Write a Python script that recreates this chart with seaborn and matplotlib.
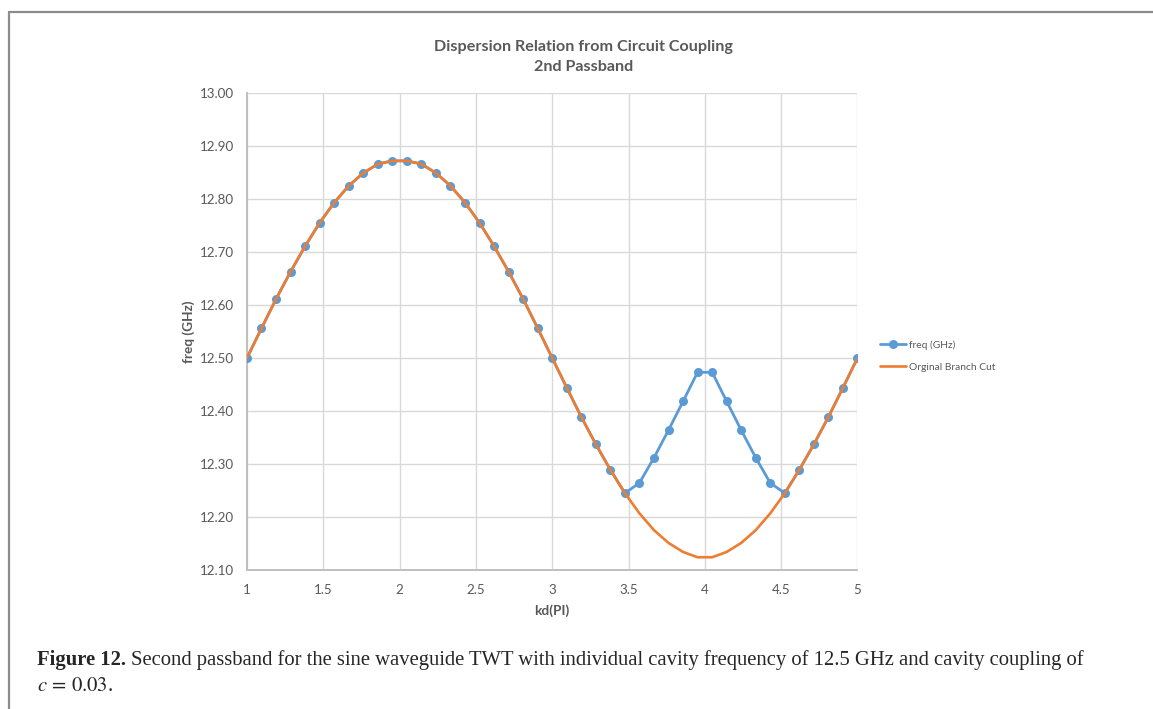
import numpy as np
import pandas as pd
import matplotlib
matplotlib.use("Agg")
import matplotlib.pyplot as plt
from matplotlib.lines import Line2D
import seaborn as sns

# ---- data ----
kd = [1.000, 1.095, 1.190, 1.286, 1.381, 1.476, 1.571, 1.667, 1.762, 1.857,
      1.952, 2.048, 2.143, 2.238, 2.333, 2.429, 2.524, 2.619, 2.714, 2.810,
      2.905, 3.000, 3.095, 3.190, 3.286, 3.381, 3.476, 3.571, 3.667, 3.762,
      3.857, 3.952, 4.048, 4.143, 4.238, 4.333, 4.429, 4.524, 4.619, 4.714,
      4.810, 4.905, 5.000]

freq_ghz = [12.500, 12.556, 12.611, 12.663, 12.711, 12.755, 12.793, 12.825, 12.849, 12.866,
            12.872, 12.872, 12.866, 12.849, 12.825, 12.793, 12.755, 12.711, 12.663, 12.611,
            12.556, 12.500, 12.444, 12.389, 12.337, 12.289, 12.245, 12.264, 12.312, 12.364,
            12.418, 12.473, 12.473, 12.418, 12.364, 12.312, 12.264, 12.245, 12.289, 12.337,
            12.389, 12.444, 12.500]

branch_cut = [12.500, 12.556, 12.611, 12.663, 12.711, 12.755, 12.793, 12.825, 12.849, 12.866,
              12.872, 12.872, 12.866, 12.849, 12.825, 12.793, 12.755, 12.711, 12.663, 12.611,
              12.556, 12.500, 12.444, 12.389, 12.337, 12.289, 12.245, 12.207, 12.175, 12.151,
              12.134, 12.124, 12.124, 12.134, 12.151, 12.175, 12.207, 12.245, 12.289, 12.337,
              12.389, 12.444, 12.500]

x_ticks = [1, 1.5, 2, 2.5, 3, 3.5, 4, 4.5, 5]
y_ticks = [12.10, 12.20, 12.30, 12.40, 12.50, 12.60, 12.70, 12.80, 12.90, 13.00]

title_text = "Dispersion Relation from Circuit Coupling\n2nd Passband"
x_label = "kd(PI)"
y_label = "freq (GHz)"
series_names = ["freq (GHz)", "Orginal Branch Cut"]
caption_bold = "Figure 12."
caption_rest = "Second passband for the sine waveguide TWT with individual cavity frequency of 12.5 GHz and cavity coupling of"
caption_line2 = r"$c\,=\,0.03$."

# ---- style ----
sns.set_style("white")
plt.rcParams['font.family'] = ['Lato', 'DejaVu Sans']
plt.rcParams['mathtext.fontset'] = 'stix'

BLUE = "#5B9BD5"
ORANGE = "#ED7D31"
GRID = "#D9D9D9"
AXIS = "#BFBFBF"
TXT = "#595959"

fig = plt.figure(figsize=(11.53, 7.09), dpi=100)
ax = fig.add_axes([0.2142, 0.1961, 0.5295, 0.6727])

df = pd.DataFrame({"kd": kd, "freq": freq_ghz, "cut": branch_cut})

sns.lineplot(data=df, x="kd", y="freq", ax=ax, color=BLUE, linewidth=2.0,
             marker="o", markersize=6.5, markeredgewidth=0, markerfacecolor=BLUE,
             label=series_names[0], zorder=3, sort=False)
sns.lineplot(data=df, x="kd", y="cut", ax=ax, color=ORANGE, linewidth=1.9,
             label=series_names[1], zorder=4, sort=False)

ax.set_xlim(1, 5)
ax.set_ylim(12.10, 13.00)
ax.set_xticks(x_ticks)
ax.set_xticklabels([f"{t:g}" for t in x_ticks])
ax.set_yticks(y_ticks)
ax.set_yticklabels([f"{t:.2f}" for t in y_ticks])
ax.grid(True, color=GRID, linewidth=1.0)
ax.set_axisbelow(True)
for s in ["top", "right"]:
    ax.spines[s].set_visible(False)
for s in ["left", "bottom"]:
    ax.spines[s].set_color(AXIS)
    ax.spines[s].set_linewidth(1.4)
ax.tick_params(axis="y", length=0, labelsize=9.6, colors=TXT, pad=9)
ax.tick_params(axis="x", length=0, labelsize=9.6, colors=TXT, pad=10)

ax.set_xlabel(x_label, fontsize=9.8, fontweight="bold", color=TXT, labelpad=6)
ax.set_ylabel(y_label, fontsize=9.8, fontweight="bold", color=TXT, labelpad=4)

fig.text(0.506, 0.943, title_text, ha="center", va="top", fontsize=11.6,
         fontweight="bold", color=TXT, linespacing=1.5)

leg = ax.legend(loc="center left", bbox_to_anchor=(0.7555, 0.498),
                bbox_transform=fig.transFigure, frameon=False, fontsize=7.4,
                handlelength=2.5, labelspacing=1.25, handletextpad=0.3)
for t in leg.get_texts():
    t.set_color(TXT)

# outer frame lines (top and left)
fig.add_artist(Line2D([0.0074, 1.0], [0.9824, 0.9824], transform=fig.transFigure,
                      color="#8C8C8C", linewidth=1.6))
fig.add_artist(Line2D([0.0074, 0.0074], [0.0, 0.9824], transform=fig.transFigure,
                      color="#8C8C8C", linewidth=1.6))

# caption
cap_size = 14.85
x0 = 0.032
t1 = fig.text(x0, 0.062, caption_bold, fontsize=cap_size, fontweight="bold",
              family="Liberation Serif", ha="left", va="baseline")
renderer = fig.canvas.get_renderer()
bb = t1.get_window_extent(renderer=renderer)
x1 = (bb.x1 + 5) / fig.bbox.width
fig.text(x1, 0.062, caption_rest, fontsize=cap_size, family="Liberation Serif",
         ha="left", va="baseline")
fig.text(x0, 0.025, caption_line2, fontsize=cap_size, family="Liberation Serif",
         ha="left", va="baseline")

fig.savefig("out.png", dpi=100)
